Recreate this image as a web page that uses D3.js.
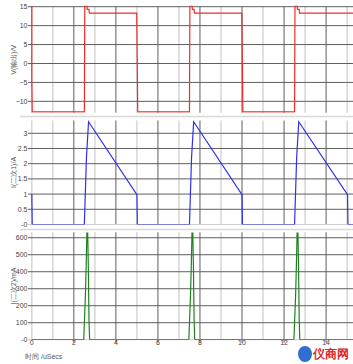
<!DOCTYPE html>
<html>
<head>
<meta charset="utf-8">
<script src="https://cdn.jsdelivr.net/npm/d3@7"></script>
<style>
  body { margin: 0; background: #fff; }
  svg { display: block; font-family: "Liberation Sans", Arial, sans-serif; }
</style>
</head>
<body>
<div id="chart"></div>
<script>
// time axis (uSecs)
const xTicks = [0, 2, 4, 6, 8, 10, 12, 14];
const xMinor = [0, 1, 3, 5, 7, 9, 11, 13, 15];

// panel 1: V(输出)
const vTime = [0, 0, 0.02, 2.5, 2.52, 2.62, 2.64, 2.72, 2.74, 4.99, 5.0, 5.04,
               7.5, 7.52, 7.62, 7.64, 7.72, 7.74, 9.99, 10.0, 10.04,
               12.5, 12.52, 12.62, 12.64, 12.72, 12.74, 15.4];
const vOut  = [15.3, -4, -12.8, -12.8, 15.3, 15.3, 14.3, 14.3, 13.3, 13.3, 9, -12.8,
               -12.8, 15.3, 15.3, 14.3, 14.3, 13.3, 13.3, 9, -12.8,
               -12.8, 15.3, 15.3, 14.3, 14.3, 13.3, 13.3];
const vTicks = [15, 10, 5, 0, -5, -10];

// panel 2: I(二次1)
const i1Time = [0, 0.02, 2.5, 2.6, 2.7, 5.0, 5.02, 7.5, 7.6, 7.7, 10.0, 10.02,
                12.5, 12.6, 12.7, 15.02, 15.04, 15.4];
const i1Amp  = [1.0, 0, 0, 2.2, 3.38, 0.98, 0, 0, 2.2, 3.38, 0.98, 0,
                0, 2.2, 3.38, 0.98, 0, 0];
const i1Ticks = [3, 2.5, 2, 1.5, 1, 0.5, 0];

// panel 3: I(二次2)
const i2Time = [0, 2.47, 2.55, 2.59, 2.62, 2.66, 2.69, 2.72, 2.75,
                7.47, 7.55, 7.59, 7.62, 7.66, 7.69, 7.72, 7.75,
                12.47, 12.55, 12.59, 12.62, 12.66, 12.69, 12.72, 12.75, 15.4];
const i2mA   = [0, 0, 260, 450, 628, 628, 420, 120, 0,
                0, 260, 450, 628, 628, 420, 120, 0,
                0, 260, 450, 628, 628, 420, 120, 0, 0];
const i2Ticks = [600, 500, 400, 300, 200, 100, 0];

const width = 353, height = 364;
const left = 31.8, right = 353;

const svg = d3.select('#chart').append('svg')
    .attr('width', width)
    .attr('height', height);

const x = d3.scaleLinear().domain([0, 15.28]).range([left, right]);

const panels = [
    { label: 'V(输出)/V', t: vTime, v: vOut, ticks: vTicks, domain: [-13, 15], range: [112.7, 6.7],
      color: '#f22a2a', fmt: d => d3.format('d')(d) },
    { label: 'I(二次1)/A', t: i1Time, v: i1Amp, ticks: i1Ticks, domain: [0, 3.42], range: [224.5, 120.5],
      color: '#2f2ff0', fmt: d => d === 0 ? '-0' : d3.format('')(d) },
    { label: 'I(二次2)/mA', t: i2Time, v: i2mA, ticks: i2Ticks, domain: [0, 632], range: [339.7, 232.3],
      color: '#1f821f', fmt: d => d === 0 ? '-0' : d3.format('d')(d) }
];

// separators between panels
[116.5, 229.5].forEach(yy => {
    svg.append('line')
        .attr('x1', 20).attr('x2', right)
        .attr('y1', yy).attr('y2', yy)
        .attr('stroke', '#d8d8d8').attr('stroke-width', 1.5);
});

panels.forEach((p, i) => {
    const y = d3.scaleLinear().domain(p.domain).range(p.range);
    const top = p.range[1], bottom = p.range[0];
    const g = svg.append('g');

    // light minor verticals
    g.selectAll('.minor').data(xMinor).enter().append('line')
        .attr('x1', d => x(d)).attr('x2', d => x(d))
        .attr('y1', top).attr('y2', bottom)
        .attr('stroke', '#d6d6d6').attr('stroke-width', 1.5);

    // dark major verticals
    g.selectAll('.major').data(xTicks.filter(d => d > 0)).enter().append('line')
        .attr('x1', d => x(d)).attr('x2', d => x(d))
        .attr('y1', top).attr('y2', bottom + (i === 2 ? 3 : 0))
        .attr('stroke', '#5e5e5e').attr('stroke-width', 1);

    // horizontal grid with ticks
    g.selectAll('.hgrid').data(p.ticks).enter().append('line')
        .attr('x1', 28).attr('x2', right)
        .attr('y1', d => y(d)).attr('y2', d => y(d))
        .attr('stroke', d => (i > 0 && d === 0) ? '#cfcfcf' : '#5e5e5e')
        .attr('stroke-width', 1);

    g.selectAll('.ylab').data(p.ticks).enter().append('text')
        .attr('x', 27.5).attr('y', d => y(d))
        .attr('dy', '0.35em')
        .attr('text-anchor', 'end')
        .attr('font-size', 7)
        .attr('fill', '#444')
        .text(p.fmt);

    // axis title
    svg.append('text')
        .attr('transform', `translate(14,${(top + bottom) / 2}) rotate(-90)`)
        .attr('text-anchor', 'middle')
        .attr('dy', '0.35em')
        .attr('font-size', 7)
        .attr('fill', '#555')
        .text(p.label);

    // trace, clipped to panel
    const clipId = 'clip' + i;
    svg.append('clipPath').attr('id', clipId)
        .append('rect')
        .attr('x', left - 1).attr('y', top - 1)
        .attr('width', right - left + 1).attr('height', bottom - top + 1);

    const line = d3.line()
        .x((d, k) => x(p.t[k]))
        .y(d => y(d));

    svg.append('path')
        .datum(p.v)
        .attr('clip-path', `url(#${clipId})`)
        .attr('fill', 'none')
        .attr('stroke', p.color)
        .attr('stroke-width', 1.2)
        .attr('d', line);
});

// x tick labels
svg.selectAll('.xlab').data(xTicks).enter().append('text')
    .attr('x', d => x(d))
    .attr('y', 345)
    .attr('text-anchor', 'middle')
    .attr('font-size', 7)
    .attr('fill', '#444')
    .text(d => d);

svg.append('text')
    .attr('x', 25).attr('y', 359)
    .attr('font-size', 7)
    .attr('fill', '#555')
    .text('时间 /uSecs');

// watermark
svg.append('ellipse')
    .attr('cx', 305).attr('cy', 354)
    .attr('rx', 7).attr('ry', 8)
    .attr('fill', '#2f6fd0');
svg.append('text')
    .attr('x', 313).attr('y', 358)
    .attr('font-size', 12)
    .attr('font-weight', 'bold')
    .attr('fill', '#e0262a')
    .text('仪商网');
</script>
</body>
</html>
